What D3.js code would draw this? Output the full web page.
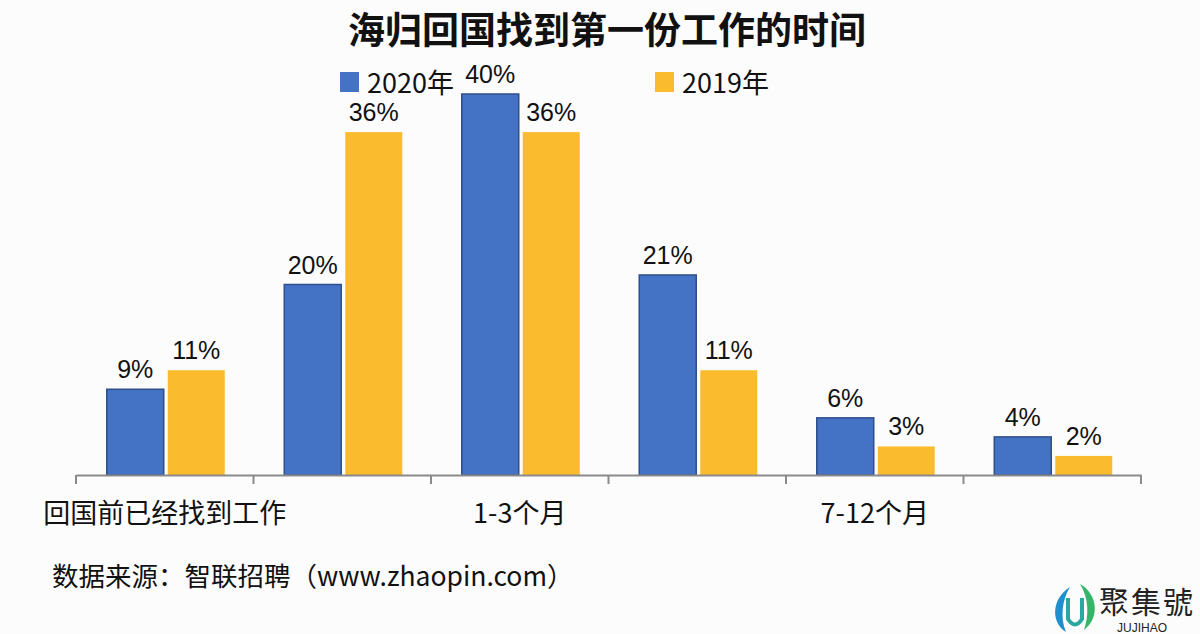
<!DOCTYPE html>
<html><head><meta charset="utf-8">
<script src="https://cdn.jsdelivr.net/npm/d3@7"></script>
<style>body{margin:0;background:#fcfcfc}svg{display:block}</style>
</head><body>
<script>
const categories = ["回国前已经找到工作","1个月以内","1-3个月","4-6个月","7-12个月","1年以上"];
const shownLabels = ["回国前已经找到工作","1-3个月","7-12个月"];
const series = ["2020年","2019年"];
const values2020 = [9,20,40,21,6,4];
const values2019 = [11,36,36,11,3,2];
const colors = ["#4472c4","#fbbb2e"];
const strokes = ["#2f4f8a","none"];

const W=1200,H=634;
const font='"Noto Sans CJK SC","Liberation Sans",Arial,sans-serif';
const svg=d3.select("body").append("svg").attr("width",W).attr("height",H).style("font-family",font);
svg.append("rect").attr("width",W).attr("height",H).attr("fill","#fcfcfc");

const x=d3.scaleBand().domain(categories).range([76,1141]).paddingInner(0).paddingOuter(0);
const y=d3.scaleLinear().domain([0,40]).range([475,94]);
const barW=57, gap=4;

const data=categories.map((c,i)=>({c,v:[values2020[i],values2019[i]]}));

// title
svg.append("text").attr("x",607).attr("y",44).attr("text-anchor","middle")
  .attr("font-size",37).attr("font-weight","bold").attr("fill","#111").text("海归回国找到第一份工作的时间");

// bars
series.forEach((s,si)=>{
  svg.append("g").selectAll("rect").data(data).join("rect")
    .attr("x",d=>x(d.c)+x.bandwidth()/2 + (si===0? -barW-gap/2+1 : gap/2+1))
    .attr("y",d=>y(d.v[si]))
    .attr("width",barW).attr("height",d=>y(0)-y(d.v[si]))
    .attr("fill",colors[si]).attr("stroke",strokes[si]).attr("stroke-width",si===0?1.5:0);
  svg.append("g").selectAll("text").data(data).join("text")
    .attr("x",d=>x(d.c)+x.bandwidth()/2 + (si===0? -barW/2-gap/2+1 : barW/2+gap/2+1))
    .attr("y",d=>y(d.v[si])-11)
    .attr("text-anchor","middle").attr("font-size",25).attr("fill","#111")
    .attr("font-family",'"Liberation Sans",Arial,sans-serif')
    .text(d=>d.v[si]+"%");
});

// axis
const axis=d3.axisBottom(x).tickSize(0).tickFormat(d=>shownLabels.includes(d)?d:"");
const ag=svg.append("g").attr("transform","translate(0,475)").call(axis);
ag.select(".domain").attr("stroke","#8a8a8a").attr("stroke-width",2);
ag.selectAll(".tick text").attr("font-size",27).attr("fill","#111").attr("y",0).attr("dy",0)
  .attr("transform","translate(0,48)").style("font-family",font);
const bounds=categories.map(c=>x(c)).concat([x.range()[1]]);
ag.selectAll("line.b").data(bounds).join("line").attr("class","b")
  .attr("x1",d=>d).attr("x2",d=>d).attr("y1",0).attr("y2",9).attr("stroke","#8a8a8a").attr("stroke-width",2);

// legend
const leg=[{s:series[0],x:340},{s:series[1],x:655}];
leg.forEach((l,i)=>{
  svg.append("rect").attr("x",l.x).attr("y",72).attr("width",19).attr("height",20).attr("fill",colors[i]);
  svg.append("text").attr("x",l.x+27).attr("y",93).attr("font-size",27).attr("fill","#111").text(l.s);
});

// source
svg.append("text").attr("x",52).attr("y",586).attr("font-size",26.5).attr("fill","#111").text("数据来源：智联招聘（www.zhaopin.com）");

// watermark
const wm=svg.append("g");
wm.append("path").attr("d","M1070,587 C1052,598 1050,622 1066,632 C1060,618 1062,600 1070,587Z").attr("fill","#1f8fd0");
wm.append("path").attr("d","M1080,584 C1098,594 1100,618 1084,630 C1089,616 1089,598 1080,584Z").attr("fill","#35b56a");
wm.append("path").attr("d","M1068,598 L1068,619 Q1075,630 1082,619 L1082,598").attr("fill","none").attr("stroke","#2aa7a0").attr("stroke-width",4);
wm.append("text").attr("x",1099).attr("y",613).attr("font-size",30).attr("letter-spacing",2).attr("fill","#222").attr("font-family",'"Noto Sans CJK TC",serif').text("聚集號");
wm.append("text").attr("x",1117).attr("y",632).attr("font-size",12).attr("fill","#222").attr("font-family",'"Liberation Sans",Arial').text("JUJIHAO");
</script>
</body></html>
